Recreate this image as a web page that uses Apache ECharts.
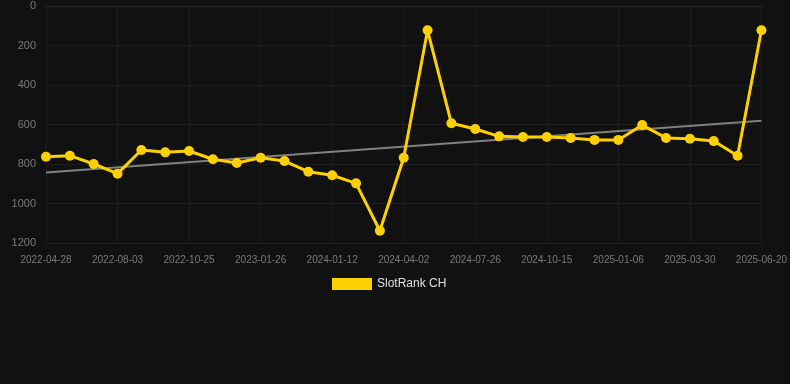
<!DOCTYPE html>
<html>
<head>
<meta charset="utf-8">
<script src="https://cdn.jsdelivr.net/npm/echarts@6/dist/echarts.min.js"></script>
<style>
html,body{margin:0;padding:0;background:#111111;}
#chart{width:790px;height:384px;}
</style>
</head>
<body>
<div id="chart"></div>
<script>
var categories = [
  '2022-04-28','2022-05-30','2022-07-01','2022-08-03','2022-08-30','2022-09-27',
  '2022-10-25','2022-11-24','2022-12-26','2023-01-26','2023-06-02','2023-09-15',
  '2024-01-12','2024-02-08','2024-03-05','2024-04-02','2024-05-10','2024-06-18',
  '2024-07-26','2024-08-22','2024-09-18','2024-10-15','2024-11-11','2024-12-09',
  '2025-01-06','2025-02-03','2025-03-03','2025-03-30','2025-04-26','2025-05-23',
  '2025-06-20'
];
var rankValues = [
  763, 758, 800, 849, 729, 741,
  734, 776, 795, 768, 785, 839,
  857, 898, 1138, 768, 123, 594,
  623, 660, 663, 663, 668, 678,
  678, 603, 668, 672, 684, 758,
  123
];
var trendStart = 843;
var trendEnd = 581;
var yTicks = [0, 200, 400, 600, 800, 1000, 1200];
var seriesName = 'SlotRank CH';

var trendData = categories.map(function (c, i) {
  if (i === 0) return trendStart;
  if (i === categories.length - 1) return trendEnd;
  return null;
});

var chart = echarts.init(document.getElementById('chart'));
chart.setOption({
  backgroundColor: '#111111',
  animation: false,
  grid: { left: 46, right: 28, top: 6, bottom: 141 },
  legend: {
    data: [seriesName],
    top: 273,
    left: 327,
    itemWidth: 40,
    itemHeight: 12,
    itemGap: 10,
    icon: 'rect',
    textStyle: { color: '#e0e0e0', fontSize: 12, fontFamily: 'Liberation Sans, Arial, sans-serif' }
  },
  xAxis: {
    type: 'category',
    data: categories,
    boundaryGap: false,
    axisLine: { show: true, lineStyle: { color: '#262626', width: 1 } },
    axisTick: { show: false },
    axisLabel: {
      interval: 2,
      color: '#7a7a7a',
      fontSize: 10,
      margin: 12,
      fontFamily: 'Liberation Sans, Arial, sans-serif'
    },
    splitLine: { show: true, interval: 2, lineStyle: { color: '#1c1c1c', width: 1 } }
  },
  yAxis: {
    type: 'value',
    inverse: true,
    min: yTicks[0],
    max: yTicks[yTicks.length - 1],
    interval: yTicks[1] - yTicks[0],
    axisLine: { show: false },
    axisTick: { show: false },
    axisLabel: {
      color: '#7a7a7a',
      fontSize: 11,
      margin: 10,
      fontFamily: 'Liberation Sans, Arial, sans-serif',
      formatter: function (v) { return String(v); }
    },
    splitLine: { show: true, lineStyle: { color: '#1e1e1e', width: 1 } }
  },
  series: [
    {
      name: seriesName,
      type: 'line',
      data: rankValues,
      symbol: 'circle',
      symbolSize: 10,
      itemStyle: { color: '#ffd000' },
      lineStyle: { color: '#ffd000', width: 3 },
      z: 3
    },
    {
      name: 'trend',
      type: 'line',
      data: trendData,
      connectNulls: true,
      symbol: 'none',
      lineStyle: { color: '#808080', width: 2 },
      itemStyle: { color: '#808080' },
      z: 2
    }
  ]
});
</script>
</body>
</html>
